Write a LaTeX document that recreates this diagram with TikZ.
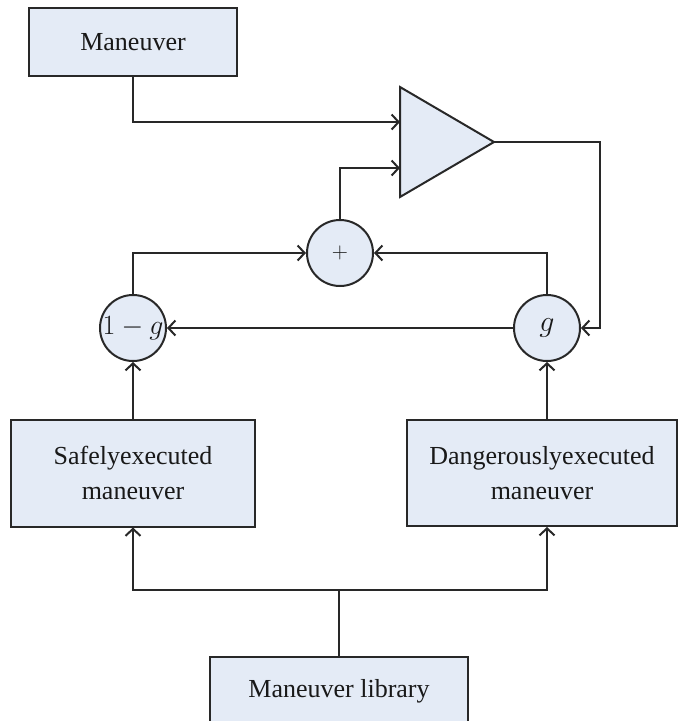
\documentclass[tikz,border=0pt]{standalone}
\usepackage{fontspec}
\setmainfont{Liberation Serif}
\usetikzlibrary{arrows.meta}
\definecolor{boxfill}{RGB}{228,235,246}
\definecolor{linegray}{RGB}{40,40,40}

\begin{document}
\begin{tikzpicture}[x=1pt, y=-1pt]
\tikzstyle{every node} = [draw=linegray, line width=2pt, fill=boxfill, text=black!90, inner sep=0pt, font=\fontsize{26}{35}\selectfont]
\tikzstyle{every path} = [draw=linegray, line width=2pt]
\tikzstyle{box} = [rectangle, align=center]
\tikzstyle{op} = [circle, minimum size=66pt]
\tikzstyle{flow} = [-{Straight Barb[length=7pt, width=15pt]}]
\useasboundingbox[draw=none] (0,0) rectangle (678,721);
\node[box, minimum width=208pt, minimum height=68pt] (man) at (133,42) {Maneuver};
\node[box, minimum width=244pt, minimum height=107pt] (safe) at (133,473) {Safelyexecuted\\maneuver};
\node[box, minimum width=270pt, minimum height=106pt] (dang) at (542,473) {Dangerouslyexecuted\\maneuver};
\node[box, minimum width=258pt, minimum height=68pt] (lib) at (339,691) {Maneuver library};
\node[op] (sum) at (340,253) {\scalebox{0.9}{$+$}};
\node[op] (onem) at (133,328) {\scalebox{1.12}{$1-g$}};
\node[op] (gain) at (547,328) {\scalebox{1.2}{$g$}};
% amplifier
\coordinate (in1) at (400,122);
\coordinate (in2) at (400,168);
\coordinate (out) at (494,142);
\coordinate (turn) at (600,142);
\coordinate (fork) at (339,590);
\path[fill=boxfill] (400,87) -- (out) -- (400,197) -- cycle;
\path[flow] (man.south) |- (in1);
\path[flow] (sum.north) |- (in2);
\path[flow] (out) -- (turn) |- (gain.east);
\path[flow] (gain.west) -- (onem.east);
\path[flow] (onem.north) |- (sum.west);
\path[flow] (gain.north) |- (sum.east);
\path[flow] (safe.north) -- (onem.south);
\path[flow] (gain |- dang.north) -- (gain.south);
\path (lib.north) -- (fork);
\path[flow] (fork) -| (safe.south);
\path[flow] (fork) -| (gain |- dang.south);
\end{tikzpicture}
\end{document}
